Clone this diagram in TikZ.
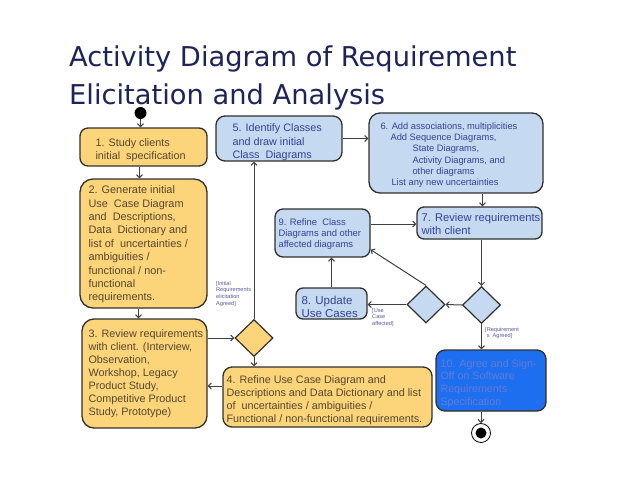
\documentclass[tikz,border=0pt]{standalone}
\usepackage{fontspec}
\setmainfont{Liberation Sans}
\newfontfamily\titlefont{DejaVu Sans}
\usetikzlibrary{arrows.meta,shapes.geometric,calc}
\definecolor{ttl}{RGB}{28,36,88}
\definecolor{yel}{RGB}{252,212,122}
\definecolor{lblue}{RGB}{197,217,241}
\definecolor{dblue}{RGB}{30,110,240}
\definecolor{bord}{RGB}{50,48,45}
\definecolor{ytc}{RGB}{85,70,45}
\definecolor{btc}{RGB}{55,65,150}
\definecolor{dtc}{RGB}{98,124,212}
\definecolor{lbc}{RGB}{90,90,150}
\definecolor{arrc}{RGB}{64,64,64}
\newcommand{\fsA}{\fontsize{10.8}{13.3}\selectfont}
\newcommand{\fsB}{\fontsize{9.3}{11.3}\selectfont}
\newcommand{\fsC}{\fontsize{11.2}{13}\selectfont}
\newcommand{\fsD}{\fontsize{5.6}{6.6}\selectfont}
\begin{document}
\begin{tikzpicture}[x=1pt,y=-1pt,
  box/.style={draw=bord, line width=1.3pt, rounded corners=9pt, inner sep=0pt},
  ybox/.style={box, fill=yel},
  bbox/.style={box, fill=lblue},
  dbox/.style={box, fill=dblue},
  txt/.style={inner sep=0pt, anchor=west, align=left},
  ytxt/.style={txt, text=ytc, font=\fsA},
  btxt/.style={txt, text=btc},
  dec/.style={draw=bord, line width=1.2pt, shape=diamond, inner sep=0pt, minimum width=38pt, minimum height=37pt},
  arr/.style={draw=arrc, line width=1pt, -{Straight Barb[length=3pt,width=6pt]}},
  lbl/.style={inner sep=0pt, anchor=north west, align=left, text=lbc, font=\fsD}
]
\useasboundingbox (0,0) rectangle (617,477);
\fill[white] (0,0) rectangle (617,477);

% title
\node[inner sep=0pt, anchor=base west, text=ttl, font=\titlefont\fontsize{27.3}{32}\selectfont] (title1) at (69,66) {Activity Diagram of Requirement};
\node[inner sep=0pt, anchor=base west, text=ttl, font=\titlefont\fontsize{27.3}{32}\selectfont] (title2) at (69,104) {Elicitation and Analysis};

% start / end
\node[circle, fill=black, inner sep=0pt, minimum size=12pt] (start) at (140.5,113) {};
\node[circle, draw=black, fill=white, line width=0.8pt, inner sep=0pt, minimum size=19pt] (end) at (481,433) {};
\node[circle, fill=black, inner sep=0pt, minimum size=11pt] (endin) at (481,433) {};

% yellow boxes
\node[ybox, rounded corners=8pt, minimum width=127pt, minimum height=38pt] (b1) at (143.5,147) {};
\node[ytxt] (t1) at ([xshift=16pt,yshift=-3pt]b1.west) {1. Study clients\\initial\ \ specification};

\node[ybox, rounded corners=13pt, minimum width=127pt, minimum height=129pt] (b2) at (143.5,243.5) {};
\node[ytxt, font=\fontsize{10.9}{13.35}\selectfont] (t2) at ([xshift=9pt,yshift=-1pt]b2.west) {2. Generate initial\\Use\ \ Case Diagram\\and\ \ Descriptions,\\Data\ \ Dictionary and\\list of\ \ uncertainties /\\ambiguities /\\functional / non-\\functional\\requirements.};

\node[ybox, rounded corners=12pt, minimum width=125pt, minimum height=109pt] (b3) at (144.5,373.5) {};
\node[ytxt, font=\fontsize{10.8}{13.1}\selectfont] (t3) at ([xshift=7pt]b3.west) {3. Review requirements\\with client. (Interview,\\Observation,\\Workshop, Legacy\\Product Study,\\Competitive Product\\Study, Prototype)};

\node[ybox, rounded corners=9pt, minimum width=209pt, minimum height=60pt] (b4) at (327.5,397) {};
\node[ytxt, font=\fontsize{10.8}{13}\selectfont] (t4) at ([xshift=4pt,yshift=-3.5pt]b4.west) {4. Refine Use Case Diagram and\\Descriptions and Data Dictionary and list\\of\ \ uncertainties / ambiguities /\\Functional / non-functional requirements.};

% blue boxes
\node[bbox, minimum width=126pt, minimum height=45pt] (b5) at (279,138.5) {};
\node[btxt, font=\fsA] (t5) at ([xshift=17pt,yshift=-4pt]b5.west) {5. Identify Classes\\and draw initial\\Class\ \ Diagrams};

\node[bbox, rounded corners=11pt, minimum width=174pt, minimum height=80pt] (b6) at (456,153) {};
\node[btxt, font=\fsB] (t6) at ([xshift=12pt,yshift=-2pt]b6.west) {6. Add associations, multiplicities\\\hspace*{10pt}Add Sequence Diagrams,\\\hspace*{32pt}State Diagrams,\\\hspace*{32pt}Activity Diagrams, and\\\hspace*{32pt}other diagrams\\\hspace*{11pt}List any new uncertainties};

\node[bbox, rounded corners=7pt, minimum width=125pt, minimum height=32pt] (b7) at (479.5,223) {};
\node[btxt, font=\fsC] (t7) at ([xshift=5pt,yshift=-1pt]b7.west) {7. Review requirements\\with client};

\node[bbox, rounded corners=7pt, minimum width=71pt, minimum height=31pt] (b8) at (331.5,303.5) {};
\node[btxt, font=\fontsize{11.5}{13}\selectfont] (t8) at ([xshift=6pt,yshift=-3pt]b8.west) {8. Update\\Use Cases};

\node[bbox, rounded corners=8pt, minimum width=95pt, minimum height=48pt] (b9) at (322.5,233) {};
\node[btxt, font=\fontsize{9.4}{11}\selectfont] (t9) at ([xshift=4pt,yshift=-1.5pt]b9.west) {9. Refine\ \ Class\\Diagrams and other\\affected diagrams};

\node[dbox, rounded corners=9pt, minimum width=110pt, minimum height=61pt] (b10) at (491,380.5) {};
\node[txt, text=dtc, font=\fontsize{10.7}{12.7}\selectfont] (t10) at ([xshift=5pt,yshift=-3pt]b10.west) {10. Agree and Sign-\\Off on Software\\Requirements\\Specification};

% decisions
\node[dec, fill=yel] (d1) at (254,338) {};
\node[dec, fill=lblue] (d2) at (426,304.5) {};
\node[dec, fill=lblue] (d3) at (481.5,305) {};

% guard labels
\node[lbl] (g1) at (216,281) {[Initial\\Requirements\\elicitation\\Agreed]};
\node[lbl] (g2) at (372,308) {[Use\\Case\\affected]};
\node[lbl] (g3) at (485,327) {[Requirement\\\ s\ \ Agreed]};

% connectors
\draw[arr] (start) -- (start |- b1.north);
\draw[arr] ([xshift=-4pt]b1.south) -- ([xshift=-4pt]b2.north);
\draw[arr] ([xshift=-5pt]b2.south) -- ([xshift=-5pt]b2.south |- b3.north);
\draw[arr] (b3.east |- d1) -- (d1.west);
\draw[arr] (d1.north) -- (d1.north |- b5.south);
\draw[arr] (d1.south) -- (d1.south |- b4.north);
\draw[arr] ([yshift=11pt]b4.west) -- ([yshift=11pt]b4.west -| b3.east);
\draw[arr] (b5.east) -- (b5.east -| b6.west);
\draw[arr] ([xshift=1pt]b6.south -| d3) -- ([xshift=1pt]b7.north -| d3);
\draw[arr] (b7.south -| d3) -- (d3.north);
\draw[arr] (d3.west) -- (d2.east);
\draw[arr] (d2.west) -- (d2.west -| b8.east);
\draw[arr] (d2.north) -- ([yshift=8pt]b9.south east);
\draw[arr] (b8.north) -- (b8.north |- b9.south);
\draw[arr] ([yshift=9pt]b9.east) -- ([yshift=9pt]b9.east -| b7.west);
\draw[arr] (d3.south) -- (d3.south |- b10.north);
\draw[arr] (b10.south -| end) -- (end.north);
\end{tikzpicture}
\end{document}
